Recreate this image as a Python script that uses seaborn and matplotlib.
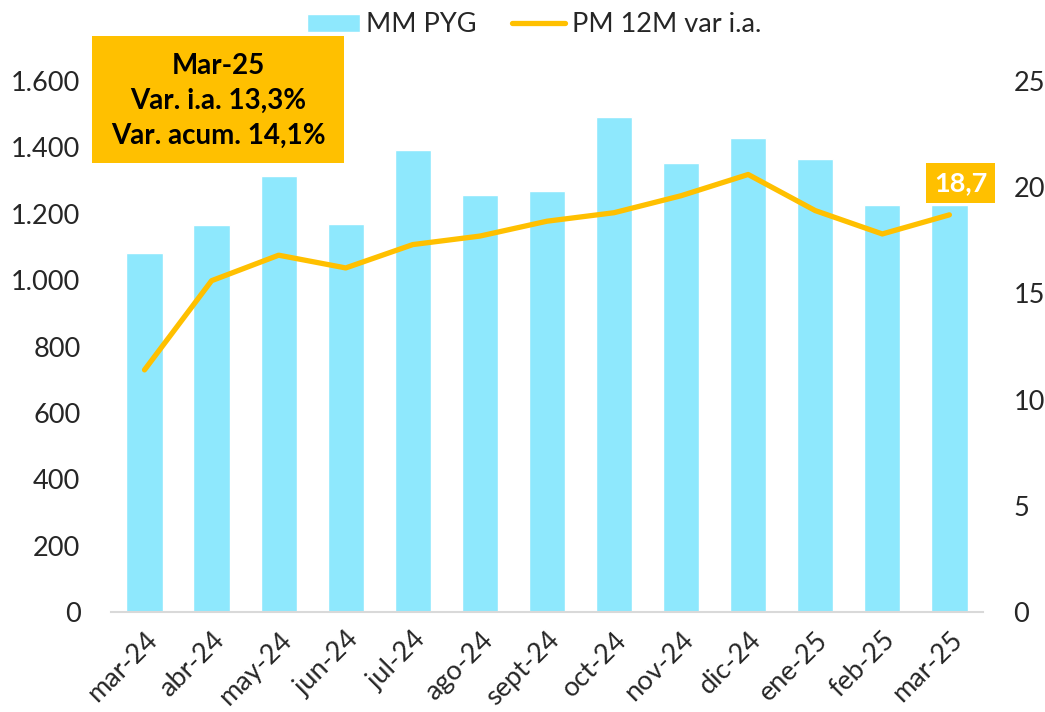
import matplotlib
matplotlib.use("Agg")
import matplotlib.pyplot as plt
import seaborn as sns
import pandas as pd
import numpy as np

categories = ["mar-24", "abr-24", "may-24", "jun-24", "jul-24", "ago-24", "sept-24",
              "oct-24", "nov-24", "dic-24", "ene-25", "feb-25", "mar-25"]
mm_pyg = [1082, 1166, 1314, 1169, 1392, 1256, 1268, 1491, 1353, 1428, 1365, 1226, 1226]
pm_12m_var = [11.4, 15.6, 16.8, 16.2, 17.3, 17.7, 18.4, 18.8, 19.6, 20.6, 18.9, 17.8, 18.7]
left_ticks = [0, 200, 400, 600, 800, 1000, 1200, 1400, 1600]
right_ticks = [0, 5, 10, 15, 20, 25]
box_lines = ["Mar-25", "Var. i.a. 13,3%", "Var. acum. 14,1%"]

BAR = "#8EE8FD"
GOLD = "#FFC000"

sns.set_theme(style="white")
plt.rcParams["font.family"] = ["Lato", "DejaVu Sans"]
FS = 19.5

df = pd.DataFrame({"cat": categories, "mm": mm_pyg, "pm": pm_12m_var})

fig = plt.figure(figsize=(10.45, 7.12), dpi=100)
ax = fig.add_axes([0.1062, 0.1404, 0.8344, 0.7458])
sns.barplot(data=df, x="cat", y="mm", color=BAR, width=0.54, ax=ax,
            saturation=1, label="MM PYG")
ax.set_xlim(-0.5, len(categories) - 0.5)
ax.set_ylim(0, 1600)
ax.set_yticks(left_ticks)
ax.set_yticklabels([f"{v:,}".replace(",", ".") for v in left_ticks], fontsize=FS)
ax.set_xlabel("")
ax.set_ylabel("")
ax.set_xticks(range(len(categories)))
ax.set_xticklabels(categories, rotation=45, ha="right", rotation_mode="anchor", fontsize=FS)
ax.tick_params(axis="x", length=0, pad=11)
ax.tick_params(axis="y", length=0, pad=22)
for s in ["top", "right", "left"]:
    ax.spines[s].set_visible(False)
ax.spines["bottom"].set_color("#D9D9D9")
ax.spines["bottom"].set_linewidth(1.5)

ax2 = ax.twinx()
sns.lineplot(data=df, x="cat", y="pm", color=GOLD, linewidth=3.8, ax=ax2,
             label="PM 12M var i.a.", solid_capstyle="round", solid_joinstyle="round",
             sort=False)
ax2.set_ylim(0, 25)
ax2.set_yticks(right_ticks)
ax2.set_yticklabels([str(v) for v in right_ticks], fontsize=FS)
ax2.tick_params(axis="y", length=0, pad=22)
ax2.set_ylabel("")
ax2.set_xlabel("")
for s in ["top", "right", "left", "bottom"]:
    ax2.spines[s].set_visible(False)
if ax2.get_legend():
    ax2.get_legend().remove()
if ax.get_legend():
    ax.get_legend().remove()

h1, l1 = ax.get_legend_handles_labels()
h2, l2 = ax2.get_legend_handles_labels()
fig.legend(h1 + h2, l1 + l2, loc="upper center", bbox_to_anchor=(0.511, 1.017),
           ncol=2, frameon=False, fontsize=FS, handlelength=1.95, handleheight=0.62,
           columnspacing=1.3, handletextpad=0.25)

# last value label
ax2.annotate(f"{pm_12m_var[-1]:.1f}".replace(".", ","), xy=(len(categories) - 1, pm_12m_var[-1]),
             xytext=(8, 23), textcoords="offset points", ha="center", va="center",
             fontsize=FS, fontweight="bold", color="white",
             bbox=dict(boxstyle="square,pad=0.3", fc=GOLD, ec="none"))

# info box
fig.patches.append(plt.Rectangle((92 / 1045, 1 - 163 / 712), (344 - 92) / 1045, (163 - 36) / 712,
                                 transform=fig.transFigure, fc=GOLD, ec="none", zorder=5))
for i, t in enumerate(box_lines):
    fig.text(218 / 1045, 1 - (66 + 35 * i) / 712, t, ha="center", va="center",
             fontsize=20, fontweight="bold", color="black", zorder=6)

fig.savefig("out.png", dpi=100)
